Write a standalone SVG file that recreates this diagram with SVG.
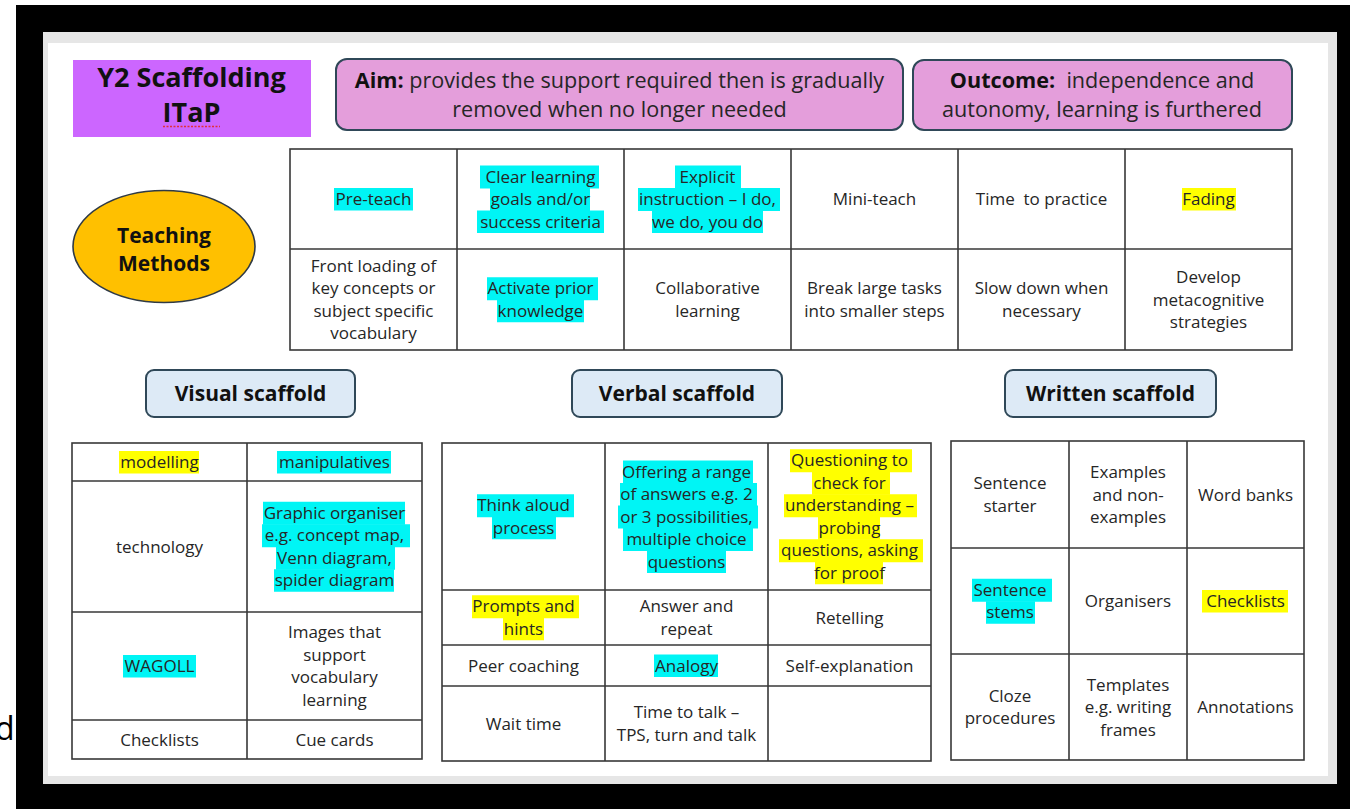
<svg xmlns="http://www.w3.org/2000/svg" width="1350" height="809" viewBox="0 0 1350 809">
<style>
.t{font-family:"Open Sans","Noto Sans","Liberation Sans",sans-serif;font-size:17px;fill:#262626;text-anchor:middle}
.big{font-size:21.6px}
.b{font-family:"Open Sans","Noto Sans","Liberation Sans",sans-serif;font-weight:bold;fill:#111;text-anchor:middle}
.hc{fill:#00F5F5}
.hy{fill:#FFFF00}
.grid{fill:none;stroke:#383838;stroke-width:1.6}
.pill{fill:#E49EDB;stroke:#2F4858;stroke-width:2}
.lab{fill:#DDEAF6;stroke:#2F4858;stroke-width:2}
</style>
<rect x="0" y="0" width="1350" height="809" fill="#fff"/>
<rect x="16" y="5" width="1334" height="804" fill="#000"/>
<rect x="43" y="32" width="1294" height="752" fill="#E6E6E6"/>
<rect x="48" y="43" width="1280" height="733" fill="#fff"/>
<text x="-5" y="740" font-family="Open Sans, sans-serif" font-size="32" fill="#000">d</text>

<g id="title">
<rect x="73" y="60" width="238" height="77" fill="#CC66FF"/>
<text class="b" x="191.5" y="87" font-size="27">Y2 Scaffolding</text>
<text class="b" x="191.5" y="122" font-size="27">ITaP</text>
<line x1="163" y1="126.5" x2="220" y2="126.5" stroke="#E0303A" stroke-width="1.5" stroke-dasharray="2 1.5"/>
</g>

<g id="aim">
<rect class="pill" x="336" y="59" width="567" height="71" rx="11"/>
<text class="t big" x="619.5" y="88"><tspan font-weight="bold" fill="#111">Aim:</tspan> provides the support required then is gradually</text>
<text class="t big" x="619.5" y="117">removed when no longer needed</text>
</g>

<g id="outcome">
<rect class="pill" x="913" y="60" width="379" height="70" rx="11"/>
<text class="t big" x="1102" y="88" xml:space="preserve"><tspan font-weight="bold" fill="#111">Outcome:</tspan>  independence and</text>
<text class="t big" x="1102" y="117">autonomy, learning is furthered</text>
</g>

<g id="teaching-methods">
<ellipse cx="164" cy="246.5" rx="91" ry="56" fill="#FFC000" stroke="#2F3A45" stroke-width="1.6"/>
<text class="b" x="164" y="243" font-size="21">Teaching</text>
<text class="b" x="164" y="271" font-size="21">Methods</text>
</g>

<g id="methods-table">
<rect class="hc" x="334" y="188" width="79" height="22.5"/>
<rect class="hc" x="480" y="165.5" width="119" height="23"/>
<rect class="hc" x="490" y="188" width="100" height="23"/>
<rect class="hc" x="477" y="210.5" width="127" height="22.5"/>
<rect class="hc" x="675" y="165.5" width="66" height="23"/>
<rect class="hc" x="638" y="188" width="142" height="23"/>
<rect class="hc" x="652" y="210.5" width="111" height="22.5"/>
<rect class="hc" x="487" y="277.25" width="111" height="23"/>
<rect class="hc" x="497" y="299.75" width="87" height="22.5"/>
<rect class="hy" x="1182" y="188" width="54" height="22.5"/>
<rect class="grid" x="290" y="149" width="1002" height="201"/>
<path class="grid" d="M290 249H1292M457 149V350M624 149V350M791 149V350M958 149V350M1125 149V350"/>
<text class="t" x="373.5" y="205">Pre-teach</text>
<text class="t" x="540.5" y="182.5">Clear learning</text>
<text class="t" x="540.5" y="205">goals and/or</text>
<text class="t" x="540.5" y="227.5">success criteria</text>
<text class="t" x="707.5" y="182.5">Explicit</text>
<text class="t" x="707.5" y="205">instruction – I do,</text>
<text class="t" x="707.5" y="227.5">we do, you do</text>
<text class="t" x="874.5" y="205">Mini-teach</text>
<text class="t" x="1041.5" y="205" xml:space="preserve">Time  to practice</text>
<text class="t" x="1208.5" y="205">Fading</text>
<text class="t" x="373.5" y="271.75">Front loading of</text>
<text class="t" x="373.5" y="294.25">key concepts or</text>
<text class="t" x="373.5" y="316.75">subject specific</text>
<text class="t" x="373.5" y="339.25">vocabulary</text>
<text class="t" x="540.5" y="294.25">Activate prior</text>
<text class="t" x="540.5" y="316.75">knowledge</text>
<text class="t" x="707.5" y="294.25">Collaborative</text>
<text class="t" x="707.5" y="316.75">learning</text>
<text class="t" x="874.5" y="294.25">Break large tasks</text>
<text class="t" x="874.5" y="316.75">into smaller steps</text>
<text class="t" x="1041.5" y="294.25">Slow down when</text>
<text class="t" x="1041.5" y="316.75">necessary</text>
<text class="t" x="1208.5" y="283">Develop</text>
<text class="t" x="1208.5" y="305.5">metacognitive</text>
<text class="t" x="1208.5" y="328">strategies</text>
</g>

<g id="visual-label">
<rect class="lab" x="146" y="370" width="209" height="47" rx="8"/>
<text class="b" x="250.5" y="401" font-size="21">Visual scaffold</text>
</g>
<g id="verbal-label">
<rect class="lab" x="572" y="370" width="210" height="47" rx="8"/>
<text class="b" x="677" y="401" font-size="21">Verbal scaffold</text>
</g>
<g id="written-label">
<rect class="lab" x="1005" y="370" width="211" height="47" rx="8"/>
<text class="b" x="1110.5" y="401" font-size="21">Written scaffold</text>
</g>

<g id="visual-table">
<rect class="hy" x="119" y="451" width="80" height="22.5"/>
<rect class="hc" x="277" y="451" width="114" height="22.5"/>
<rect class="hc" x="263" y="501.75" width="142" height="23"/>
<rect class="hc" x="262" y="524.25" width="148" height="23"/>
<rect class="hc" x="276" y="546.75" width="119" height="23"/>
<rect class="hc" x="274" y="569.25" width="120" height="22.5"/>
<rect class="hc" x="123" y="655" width="73" height="22.5"/>
<rect class="grid" x="72" y="443" width="350" height="316"/>
<path class="grid" d="M72 481H422M72 612H422M72 720H422M247 443V759"/>
<text class="t" x="159.5" y="468">modelling</text>
<text class="t" x="334.5" y="468">manipulatives</text>
<text class="t" x="159.5" y="552.5">technology</text>
<text class="t" x="334.5" y="518.75">Graphic organiser</text>
<text class="t" x="334.5" y="541.25">e.g. concept map,</text>
<text class="t" x="334.5" y="563.75">Venn diagram,</text>
<text class="t" x="334.5" y="586.25">spider diagram</text>
<text class="t" x="159.5" y="672">WAGOLL</text>
<text class="t" x="334.5" y="638.25">Images that</text>
<text class="t" x="334.5" y="660.75">support</text>
<text class="t" x="334.5" y="683.25">vocabulary</text>
<text class="t" x="334.5" y="705.75">learning</text>
<text class="t" x="159.5" y="745.5">Checklists</text>
<text class="t" x="334.5" y="745.5">Cue cards</text>
</g>

<g id="verbal-table">
<rect class="hc" x="477" y="494.25" width="97" height="23"/>
<rect class="hc" x="492" y="516.75" width="64" height="22.5"/>
<rect class="hc" x="623" y="460.5" width="130" height="23"/>
<rect class="hc" x="620" y="483" width="137" height="23"/>
<rect class="hc" x="618" y="505.5" width="140" height="23"/>
<rect class="hc" x="623" y="528" width="130" height="23"/>
<rect class="hc" x="647" y="550.5" width="79" height="22.5"/>
<rect class="hy" x="790" y="449.25" width="122" height="23"/>
<rect class="hy" x="812" y="471.75" width="78" height="23"/>
<rect class="hy" x="784" y="494.25" width="133" height="23"/>
<rect class="hy" x="818" y="516.75" width="62" height="23"/>
<rect class="hy" x="779" y="539.25" width="144" height="23"/>
<rect class="hy" x="815" y="561.75" width="68" height="22.5"/>
<rect class="hy" x="472" y="595.25" width="107" height="23"/>
<rect class="hy" x="503" y="617.75" width="41" height="22.5"/>
<rect class="hc" x="654" y="654.5" width="64" height="22.5"/>
<rect class="grid" x="442" y="443" width="489" height="318"/>
<path class="grid" d="M442 590H931M442 645H931M442 686H931M605 443V761M768 443V761"/>
<text class="t" x="523.5" y="511.25">Think aloud</text>
<text class="t" x="523.5" y="533.75">process</text>
<text class="t" x="686.5" y="477.5">Offering a range</text>
<text class="t" x="686.5" y="500">of answers e.g. 2</text>
<text class="t" x="686.5" y="522.5">or 3 possibilities,</text>
<text class="t" x="686.5" y="545">multiple choice</text>
<text class="t" x="686.5" y="567.5">questions</text>
<text class="t" x="849.5" y="466.25">Questioning to</text>
<text class="t" x="849.5" y="488.75">check for</text>
<text class="t" x="849.5" y="511.25">understanding –</text>
<text class="t" x="849.5" y="533.75">probing</text>
<text class="t" x="849.5" y="556.25">questions, asking</text>
<text class="t" x="849.5" y="578.75">for proof</text>
<text class="t" x="523.5" y="612.25">Prompts and</text>
<text class="t" x="523.5" y="634.75">hints</text>
<text class="t" x="686.5" y="612.25">Answer and</text>
<text class="t" x="686.5" y="634.75">repeat</text>
<text class="t" x="849.5" y="623.5">Retelling</text>
<text class="t" x="523.5" y="671.5">Peer coaching</text>
<text class="t" x="686.5" y="671.5">Analogy</text>
<text class="t" x="849.5" y="671.5">Self-explanation</text>
<text class="t" x="523.5" y="729.5">Wait time</text>
<text class="t" x="686.5" y="718.25">Time to talk –</text>
<text class="t" x="686.5" y="740.75">TPS, turn and talk</text>
</g>

<g id="written-table">
<rect class="hc" x="972" y="578.75" width="80" height="23"/>
<rect class="hc" x="986" y="601.25" width="49" height="22.5"/>
<rect class="hy" x="1202" y="590" width="86" height="22.5"/>
<rect class="grid" x="951" y="441" width="353" height="319"/>
<path class="grid" d="M951 548H1304M951 654H1304M1069 441V760M1187 441V760"/>
<text class="t" x="1010" y="489.25">Sentence</text>
<text class="t" x="1010" y="511.75">starter</text>
<text class="t" x="1128" y="478">Examples</text>
<text class="t" x="1128" y="500.5">and non-</text>
<text class="t" x="1128" y="523">examples</text>
<text class="t" x="1245.5" y="500.5">Word banks</text>
<text class="t" x="1010" y="595.75">Sentence</text>
<text class="t" x="1010" y="618.25">stems</text>
<text class="t" x="1128" y="607">Organisers</text>
<text class="t" x="1245.5" y="607">Checklists</text>
<text class="t" x="1010" y="701.75">Cloze</text>
<text class="t" x="1010" y="724.25">procedures</text>
<text class="t" x="1128" y="690.5">Templates</text>
<text class="t" x="1128" y="713">e.g. writing</text>
<text class="t" x="1128" y="735.5">frames</text>
<text class="t" x="1245.5" y="713">Annotations</text>
</g>
</svg>
